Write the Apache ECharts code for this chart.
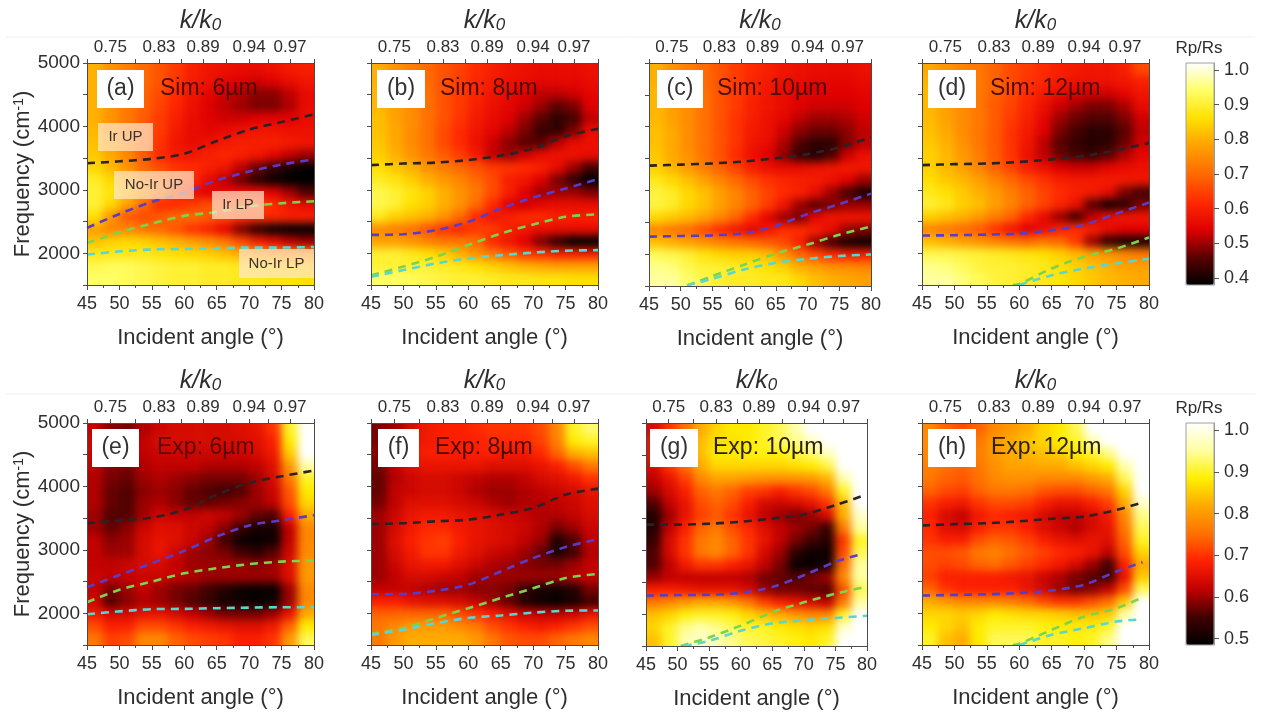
<!DOCTYPE html>
<html><head><meta charset="utf-8">
<style>html,body{margin:0;padding:0;background:#fff}#c{width:1261px;height:715px}</style>
<script src="https://cdn.jsdelivr.net/npm/echarts@6/dist/echarts.min.js"></script>
</head><body><div id="c"></div>
<script>
const angleBands=['46.25','48.75','51.25','53.75','56.25','58.75','61.25','63.75','66.25','68.75','71.25','73.75','76.25','78.75'];
const freqBands=['4903','4708','4514','4319','4125','3931','3736','3542','3347','3153','2958','2764','2569','2375','2181','1986','1792','1597'];
const yTickValues=[1500,2000,2500,3000,3500,4000,4500,5000];
const yLabelValues=[2000,3000,4000,5000];
const kAngles=[48.6,56.1,62.9,70,76.3];
const kLabels=['0.75','0.83','0.89','0.94','0.97'];
const kTicks=[45,48.6,52.5,56.1,59.5,62.9,66.5,70,73,76.3,80];
const barTicks=[0.4,0.5,0.6,0.7,0.8,0.9,1.0];
const barTicks2=[0.5,0.6,0.7,0.8,0.9,1.0];

const heatA=[
[80,76,73,70,67,64,60,58,57,56,56,57,59,60],
[80,76,73,70,67,63,59,57,55,54,53,54,56,58],
[80,76,72,69,66,62,58,55,53,51,49,49,52,56],
[80,76,72,69,65,61,57,54,52,50,48,48,51,56],
[80,76,72,68,64,60,56,54,53,53,54,54,54,56],
[81,76,72,68,64,59,56,55,56,57,58,58,57,57],
[82,78,73,68,63,58,56,57,59,60,60,60,59,58],
[83,79,74,68,62,59,58,60,61,60,58,55,52,50],
[85,81,76,70,66,63,62,60,58,52,47,43,40,38],
[89,85,80,74,70,66,62,56,52,47,42,39,38,38],
[90,87,82,76,70,62,56,54,55,56,56,54,50,45],
[90,85,78,70,62,62,64,66,66,66,65,62,58,56],
[86,76,68,66,68,70,70,68,66,63,62,61,60,60],
[78,74,74,72,70,67,63,60,55,48,42,39,37,37],
[82,84,85,84,82,80,78,75,72,66,60,56,52,50],
[88,88,88,88,87,86,85,84,82,80,78,76,75,75],
[92,93,93,92,91,90,90,89,89,88,87,86,85,85],
[94,94,93,92,91,90,90,89,89,88,88,87,87,86]];
const heatB=[
[80,76,73,70,67,65,62,60,58,57,56,56,56,57],
[80,77,73,70,67,64,61,59,57,56,55,55,55,56],
[81,77,74,71,67,64,61,58,56,54,52,52,53,55],
[81,78,75,71,67,64,60,57,55,53,50,46,48,54],
[82,78,75,71,67,63,59,56,54,50,46,42,44,52],
[82,79,75,71,66,62,58,55,52,48,43,42,48,56],
[83,79,75,71,66,62,57,53,49,46,46,52,56,57],
[84,80,76,72,68,64,59,52,50,53,56,57,57,56],
[86,83,80,76,73,70,67,64,63,62,60,56,50,44],
[89,87,84,80,77,74,70,66,60,58,54,48,42,38],
[92,90,87,84,80,76,72,66,60,54,50,50,50,48],
[92,90,86,84,80,76,70,62,54,53,55,56,56,56],
[88,84,82,80,76,70,62,58,60,62,62,60,60,60],
[75,73,71,67,63,61,64,64,60,58,56,56,56,56],
[78,78,76,74,72,72,70,62,58,54,48,42,38,36],
[90,90,88,86,84,80,76,72,68,64,62,60,60,60],
[90,90,90,90,89,88,86,84,82,80,79,78,78,78],
[94,94,93,92,91,90,90,89,88,88,87,87,86,86]];
const heatC=[
[80,76,73,70,67,64,62,60,58,57,56,56,56,57],
[80,77,73,70,67,64,61,59,57,56,55,55,55,56],
[81,78,74,71,67,64,61,58,56,55,54,54,54,55],
[81,78,75,71,67,64,60,58,56,54,53,53,53,54],
[81,78,75,71,67,63,60,57,55,52,50,50,51,53],
[82,79,75,71,67,63,59,57,53,49,47,47,49,52],
[82,79,75,71,67,63,58,56,51,45,42,42,48,52],
[83,79,76,71,67,62,57,54,49,43,41,45,53,57],
[84,81,77,73,69,65,60,57,56,56,57,58,59,58],
[88,85,82,78,74,70,66,63,61,60,59,57,54,50],
[91,89,85,82,78,74,69,65,62,60,56,50,44,40],
[91,89,85,82,78,74,69,64,58,50,46,48,50,50],
[85,83,81,78,74,69,62,55,50,48,55,58,58,58],
[74,72,70,66,62,58,55,58,62,62,60,56,50,48],
[82,80,78,76,74,72,70,68,66,60,50,44,40,39],
[93,92,90,87,85,84,84,82,76,70,66,62,60,60],
[96,95,92,90,90,89,88,86,84,80,78,76,75,74],
[97,97,94,92,90,89,89,88,88,85,82,80,79,78]];
const heatD=[
[79,76,74,72,69,66,64,62,60,59,58,58,60,66],
[80,77,74,72,69,66,63,61,59,57,57,57,58,60],
[81,78,75,72,69,66,62,59,56,54,53,53,55,58],
[81,78,75,72,68,65,61,57,53,50,48,48,51,56],
[81,78,75,72,68,64,60,55,50,47,45,45,48,53],
[82,79,75,72,68,63,59,54,48,44,42,42,46,52],
[83,80,76,72,68,63,58,52,46,43,41,42,47,53],
[84,81,77,73,68,63,57,52,47,44,43,46,51,55],
[84,81,78,74,69,65,60,57,54,53,53,55,56,57],
[86,83,81,78,74,70,66,63,60,59,59,59,59,58],
[88,86,83,80,77,73,69,65,62,60,59,56,48,44],
[90,88,84,82,78,74,69,65,61,57,46,40,42,48],
[84,82,80,77,73,69,62,56,50,44,52,56,58,58],
[74,72,70,68,63,58,54,56,60,62,60,56,54,54],
[82,80,78,76,74,72,70,72,70,64,50,42,40,40],
[92,92,91,90,89,88,87,86,84,81,78,76,74,72],
[96,95,93,91,90,90,89,88,86,84,82,80,78,78],
[97,97,95,93,91,90,89,88,87,85,83,81,80,79]];
const heatE=[
[62,59,58,61,63,64,64,64,64,65,66,70,90,102],
[63,60,59,62,64,64,64,64,64,64,65,68,88,102],
[63,60,59,62,63,63,63,63,63,63,64,67,85,102],
[62,59,58,61,62,62,62,61,61,61,62,65,80,96],
[61,58,57,60,61,60,59,58,58,58,60,64,76,90],
[61,57,56,59,60,59,57,56,55,56,60,63,73,88],
[61,57,56,60,61,59,57,57,58,59,60,62,72,86],
[60,56,56,60,63,62,62,63,62,60,57,56,68,82],
[60,57,59,63,65,65,63,62,59,55,51,51,62,78],
[62,59,60,64,66,65,63,60,55,50,49,50,62,78],
[62,60,60,64,66,63,60,59,58,55,53,56,63,78],
[62,62,63,64,64,62,60,60,60,60,59,60,65,80],
[63,62,62,63,63,62,61,60,60,60,60,60,65,80],
[62,58,60,62,60,58,57,55,52,50,49,49,60,78],
[63,56,59,61,60,58,56,54,51,50,49,50,60,78],
[67,64,64,66,66,64,62,60,58,58,58,60,66,82],
[72,68,68,72,72,70,68,67,66,65,65,67,74,88],
[76,71,72,78,78,74,72,71,70,68,68,70,80,92]];
const heatF=[
[58,60,64,67,68,68,69,70,70,70,72,78,90,93],
[58,62,65,67,68,68,68,69,69,69,71,77,88,90],
[59,63,66,68,68,68,68,68,67,67,69,74,82,84],
[58,62,65,66,66,66,66,65,65,65,66,68,72,76],
[57,61,63,64,64,63,62,61,61,62,64,65,67,70],
[57,62,63,64,64,63,61,60,60,61,62,63,64,66],
[58,62,65,65,65,64,63,61,60,61,61,62,63,65],
[60,63,66,67,67,66,65,64,63,62,61,61,62,64],
[60,64,67,69,69,67,66,65,64,63,61,58,60,63],
[60,65,68,70,71,68,66,65,64,62,60,52,56,62],
[60,64,67,70,70,67,65,63,62,60,57,51,55,61],
[60,63,66,67,67,65,63,61,60,59,58,58,60,62],
[60,62,64,64,63,62,60,60,60,60,60,60,61,62],
[62,62,62,61,60,60,59,59,58,54,51,50,52,58],
[68,68,66,65,65,64,62,60,57,52,50,49,51,55],
[74,74,74,74,74,72,70,68,65,63,62,62,63,66],
[76,78,80,80,80,78,76,72,70,68,67,68,70,72],
[76,80,82,82,82,82,80,76,73,72,72,74,76,78]];
const heatG=[
[64,70,75,82,86,88,88,90,92,96,102,102,102,102],
[66,72,78,84,87,87,88,90,92,94,98,102,102,102],
[66,72,78,84,88,88,89,89,89,91,93,97,102,102],
[64,70,75,82,86,86,86,86,86,87,88,91,102,102],
[62,66,71,78,81,81,80,79,79,79,80,83,96,102],
[60,64,68,74,76,74,71,70,68,70,72,76,90,102],
[56,62,66,72,74,72,68,64,63,64,66,70,84,102],
[52,60,66,71,73,70,66,62,60,58,60,64,82,98],
[52,62,68,74,76,72,69,65,62,60,58,54,76,95],
[54,64,70,76,78,74,70,66,62,58,55,52,70,90],
[56,64,70,76,78,74,70,64,60,53,50,50,72,92],
[56,62,67,70,70,68,66,62,58,50,49,51,75,95],
[60,62,62,62,62,62,61,58,57,56,58,60,78,95],
[68,68,67,66,66,66,64,60,58,58,57,56,72,92],
[76,78,80,82,82,80,76,71,68,66,64,62,76,95],
[84,86,89,90,90,89,86,84,82,80,78,78,90,102],
[86,90,94,96,94,92,90,90,88,87,86,87,98,102],
[84,90,96,98,96,94,92,91,90,89,88,90,102,102]];
const heatH=[
[78,74,72,74,78,80,82,86,88,92,102,102,102,102],
[78,76,74,76,80,82,84,86,88,90,96,102,102,102],
[78,76,74,77,80,82,83,84,85,88,90,94,102,102],
[77,75,74,76,79,81,81,82,82,84,86,88,96,102],
[76,74,73,75,78,79,79,78,78,78,80,82,92,102],
[74,72,71,74,76,76,75,73,72,72,74,76,86,102],
[70,68,67,70,72,72,71,68,66,66,68,71,82,98],
[68,64,62,67,69,68,67,64,62,62,64,67,78,94],
[69,65,64,68,70,70,68,65,63,61,64,66,76,92],
[70,68,68,72,74,73,71,68,66,65,66,65,74,90],
[72,72,73,76,77,75,73,71,69,68,66,62,72,86],
[72,71,72,74,75,73,71,69,67,64,60,55,68,82],
[71,68,68,68,68,67,66,63,61,58,56,55,66,85],
[74,70,68,68,68,68,66,63,60,58,59,62,72,92],
[82,80,78,78,78,77,75,72,70,70,72,75,85,102],
[86,86,85,86,88,87,86,86,85,84,84,85,95,102],
[88,86,84,88,90,90,90,89,88,88,88,90,102,102],
[90,84,82,88,92,92,92,90,90,89,90,94,102,102]];

const lineA=[[[45,3420],[50,3450],[55,3490],[60,3570],[65,3770],[70,3950],[75,4070],[80,4190]],
[[45,2400],[50,2620],[55,2810],[60,2960],[65,3150],[70,3290],[75,3400],[80,3480]],
[[45,2160],[50,2330],[55,2470],[60,2590],[65,2650],[70,2740],[75,2790],[80,2820]],
[[45,1980],[50,2030],[55,2060],[60,2070],[65,2080],[70,2090],[75,2090],[80,2100]]];
const lineB=[[[45,3390],[50,3415],[55,3430],[60,3470],[65,3540],[70,3650],[75,3845],[80,3965]],
[[45,2290],[50,2300],[55,2365],[60,2495],[65,2705],[70,2880],[75,3020],[80,3170]],
[[45,1655],[50,1790],[55,1945],[60,2130],[65,2310],[70,2455],[75,2575],[80,2615]],
[[45,1630],[50,1735],[55,1840],[60,1920],[65,1970],[70,2010],[75,2040],[80,2050]]];
const lineC=[[[45,3390],[50,3405],[55,3425],[60,3455],[65,3505],[70,3570],[75,3675],[80,3835]],
[[45,2275],[50,2285],[55,2295],[60,2330],[65,2445],[70,2630],[75,2785],[80,2950]],
[[51,1510],[55,1655],[60,1835],[65,2010],[70,2150],[75,2305],[80,2435]],
[[51,1510],[55,1615],[60,1760],[65,1865],[70,1925],[75,1970],[80,1995]]];
const lineD=[[[45,3390],[50,3405],[55,3415],[60,3440],[65,3480],[70,3535],[75,3625],[80,3740]],
[[45,2280],[50,2285],[55,2295],[60,2310],[65,2365],[70,2450],[75,2625],[80,2800]],
[[59,1500],[60,1515],[65,1760],[70,1945],[75,2075],[80,2250]],
[[60,1500],[65,1655],[70,1760],[75,1840],[79,1900],[80,1915]]];
const lineE=[[[45,3420],[50,3465],[55,3510],[60,3630],[65,3870],[70,4055],[75,4160],[80,4250]],
[[45,2410],[50,2605],[55,2790],[60,2985],[65,3210],[70,3385],[75,3465],[80,3545]],
[[45,2175],[50,2370],[55,2500],[60,2630],[65,2710],[70,2775],[75,2815],[80,2830]],
[[45,1985],[50,2030],[55,2065],[60,2070],[65,2080],[70,2090],[75,2095],[80,2095]]];
const lineF=[[[45,3405],[50,3420],[55,3450],[60,3475],[65,3555],[70,3660],[75,3870],[80,3965]],
[[45,2300],[50,2305],[55,2355],[60,2450],[65,2660],[70,2870],[75,3045],[80,3170]],
[[45,1675],[50,1765],[55,1925],[60,2080],[65,2240],[70,2395],[75,2555],[80,2620]],
[[45,1660],[50,1740],[55,1845],[60,1925],[65,1965],[70,2010],[75,2040],[80,2045]]];
const lineG=[[[45,3405],[50,3405],[55,3420],[60,3450],[65,3500],[70,3565],[75,3710],[79,3845]],
[[45,2290],[50,2300],[55,2305],[60,2335],[65,2425],[70,2610],[75,2820],[79,2940]],
[[50.5,1500],[55,1635],[60,1820],[65,2030],[70,2185],[75,2320],[80,2435]],
[[51,1500],[55,1580],[60,1740],[65,1855],[70,1905],[75,1940],[80,1975]]];
const lineH=[[[45,3385],[50,3405],[55,3420],[60,3450],[65,3490],[70,3525],[75,3630],[79,3745]],
[[45,2280],[50,2290],[55,2300],[60,2320],[65,2360],[70,2450],[75,2660],[79,2805]],
[[59,1500],[60,1520],[65,1740],[70,1950],[75,2080],[79,2250]],
[[60,1500],[65,1660],[70,1765],[75,1870],[79,1905]]];

const panelHeat=[heatA,heatB,heatC,heatD,heatE,heatF,heatG,heatH];
const panelLines=[lineA,lineB,lineC,lineD,lineE,lineF,lineG,lineH];
const panelTags=['(a)','(b)','(c)','(d)','(e)','(f)','(g)','(h)'];
const panelNames=['Sim: 6µm','Sim: 8µm','Sim: 10µm','Sim: 12µm','Exp: 6µm','Exp: 8µm','Exp: 10µm','Exp: 12µm'];
const regionNames=['Ir UP','No-Ir UP','Ir LP','No-Ir LP'];

// layout
const rects=[[87,63,227,222],[371,63,227,222],[649,63,222,223],[922,63,227,222],
             [87,423,227,222],[371,423,227,222],[646,423,221,223],[922,423,227,222]];
const tagBoxes=[[97,70,47,38],[377,70,48,38],[657,70,46,38],[928,70,48,38],
                [92,429,47,38],[378,429,41,38],[650,429,48,38],[928,429,48,38]];
const nameX=[160,440,717,990,157,435,713,991];
const nameFill=['#4a0c0c','#4a0c0c','#4a0c0c','#4a0c0c','#5a0808','#4a0808','#2b2200','#2b2200'];
const regionBoxes=[[98,123,55,28],[114,171,80,28],[212,191,52,28],[239,249,75,29]];
const lineColors=['#2a2226','#5a3cc8','#7cd44a','#58d6d0'];
const FONT='"Liberation Sans",Arial,sans-serif';
const TXT='#2e2e2e';
const BLUR=4;

const scale1=['#000000','#5a0000','#e00000','#ff2a00','#ff6a00','#ffa000','#ffe000','#ffff66','#ffffff'];
const scale2=['#000000','#400000','#c00000','#ff2000','#ff7000','#ffa800','#ffef00','#ffffa0','#ffffff'];

const grids=[],xAxes=[],yAxes=[],series=[],graphic=[];
const simIdx=[],expIdx=[];
const Z=1; // everything but the colour cells sits on this canvas layer
rects.forEach((r,i)=>{
  const nc=angleBands.length,nr=freqBands.length,cw=r[2]/nc,ch=r[3]/nr;
  // the colour grid carries one repeated band per side so the smoothing does not fade at the plot edge
  const gHeat=grids.length;
  grids.push({left:r[0]-cw,top:r[1]-ch,width:r[2]+2*cw,height:r[3]+2*ch});
  xAxes.push({type:'category',gridIndex:gHeat,data:['lo',...angleBands,'hi'],show:false});
  yAxes.push({type:'category',gridIndex:gHeat,data:['lo',...freqBands.slice().reverse(),'hi'],show:false});
  const cells=[],h=panelHeat[i];
  for(let ri=-1;ri<=nr;ri++)for(let ci=-1;ci<=nc;ci++){
    const v=h[Math.min(nr-1,Math.max(0,ri))][Math.min(nc-1,Math.max(0,ci))];
    cells.push([ci+1,nr-ri,v/100]);
  }
  (i<4?simIdx:expIdx).push(series.length);
  series.push({type:'heatmap',xAxisIndex:xAxes.length-1,yAxisIndex:yAxes.length-1,data:cells,silent:true,progressive:0,zlevel:0,emphasis:{disabled:true}});

  const g=grids.length;
  grids.push({left:r[0],top:r[1],width:r[2],height:r[3]});
  const line={lineStyle:{color:'#4a4a4a',width:1}};
  const bi=xAxes.length;
  xAxes.push({type:'value',gridIndex:g,position:'bottom',min:45,max:80,interval:5,zlevel:Z,z:5,splitLine:{show:false},
    axisLine:{show:true,onZero:false,...line},axisTick:{show:true,length:5,inside:false,...line},
    minorTick:{show:true,splitNumber:2,length:3,lineStyle:{color:'#4a4a4a'}},minorSplitLine:{show:false},
    axisLabel:{fontSize:18,color:TXT,fontFamily:FONT,margin:10,hideOverlap:false,showMinLabel:true,showMaxLabel:true},
    name:'Incident angle (°)',nameLocation:'middle',nameGap:42,nameTextStyle:{fontSize:22,color:TXT,fontFamily:FONT}});
  xAxes.push({type:'value',gridIndex:g,position:'top',min:45,max:80,zlevel:Z,z:5,splitLine:{show:false},
    axisLine:{show:true,onZero:false,...line},axisTick:{show:true,length:4,customValues:kTicks,...line},
    axisLabel:{fontSize:17,color:TXT,fontFamily:FONT,margin:7,customValues:kAngles,formatter:v=>kLabels[kAngles.indexOf(v)]},
    name:'{i|k/k}{s|0}',nameLocation:'middle',nameGap:29,
    nameTextStyle:{rich:{i:{fontSize:25,fontStyle:'italic',color:TXT,fontFamily:FONT},s:{fontSize:17,fontStyle:'italic',color:TXT,fontFamily:FONT,verticalAlign:'bottom',padding:[9,0,0,0]}}}});
  const left=i%4===0;
  yAxes.push({type:'value',gridIndex:g,position:'left',min:1500,max:5000,zlevel:Z,z:5,splitLine:{show:false},
    axisLine:{show:true,onZero:false,...line},axisTick:{show:true,length:4,customValues:yTickValues,...line},
    axisLabel:{show:left,fontSize:19,color:TXT,fontFamily:FONT,margin:7,customValues:yLabelValues,formatter:v=>String(v)},
    name:left?'{a|Frequency (cm}{b|-1}{a|)}':'',nameLocation:'middle',nameGap:52,
    nameTextStyle:{rich:{a:{fontSize:22,color:TXT,fontFamily:FONT},b:{fontSize:14,color:TXT,fontFamily:FONT,verticalAlign:'top',padding:[0,0,8,0]}}}});
  yAxes.push({type:'value',gridIndex:g,position:'right',min:1500,max:5000,zlevel:Z,z:5,splitLine:{show:false},
    axisLine:{show:true,onZero:false,...line},axisTick:{show:false},axisLabel:{show:false}});
  panelLines[i].forEach((pts,k)=>{
    series.push({type:'line',xAxisIndex:bi,yAxisIndex:yAxes.length-2,data:pts,smooth:0.3,showSymbol:false,silent:true,zlevel:Z,z:3,
      lineStyle:{color:lineColors[k],width:2.6,type:[8,6]},clip:true});
  });
  const t=tagBoxes[i];
  graphic.push({type:'rect',zlevel:Z,shape:{x:t[0],y:t[1],width:t[2],height:t[3]},style:{fill:'#fff'},z:20,silent:true});
  graphic.push({type:'text',zlevel:Z,x:t[0]+t[2]/2,y:t[1]+t[3]/2,style:{text:panelTags[i],font:'23px '+FONT,fill:'#333',align:'center',verticalAlign:'middle'},z:21,silent:true});
  graphic.push({type:'text',zlevel:Z,x:nameX[i],y:t[1]+t[3]/2,style:{text:panelNames[i],font:'23px '+FONT,fill:nameFill[i],align:'left',verticalAlign:'middle'},z:21,silent:true});
});
regionNames.forEach((n,i)=>{
  const b=regionBoxes[i];
  graphic.push({type:'rect',zlevel:Z,shape:{x:b[0],y:b[1],width:b[2],height:b[3]},style:{fill:'rgba(255,232,205,0.72)'},z:20,silent:true});
  graphic.push({type:'text',zlevel:Z,x:b[0]+b[2]/2,y:b[1]+b[3]/2,style:{text:n,font:'15px '+FONT,fill:'#3a3030',align:'center',verticalAlign:'middle'},z:21,silent:true});
});
[37,394].forEach(y=>graphic.push({type:'line',zlevel:Z,shape:{x1:6,y1:y,x2:1255,y2:y},style:{stroke:'#f0f0f0',lineWidth:1},z:0,silent:true}));
[[1199,48],[1199,408]].forEach(([x,y])=>graphic.push({type:'text',zlevel:Z,x,y,style:{text:'Rp/Rs',font:'17px '+FONT,fill:TXT,align:'center',verticalAlign:'middle'},z:21,silent:true}));

// colour bars
const barDefs=[{top:63,height:222,min:0.38,max:1.02,ticks:barTicks},{top:423,height:222,min:0.485,max:1.017,ticks:barTicks2}];
barDefs.forEach(b=>{
  const g=grids.length;
  grids.push({left:1186,top:b.top,width:28,height:b.height,show:true,zlevel:Z,z:10,borderColor:'#a0a0a0',borderWidth:1,backgroundColor:'transparent'});
  xAxes.push({type:'value',gridIndex:g,show:false,min:0,max:1});
  yAxes.push({type:'value',gridIndex:g,position:'right',min:b.min,max:b.max,zlevel:Z,z:10,splitLine:{show:false},
    axisLine:{show:true,onZero:false,lineStyle:{color:'#9a9a9a'}},axisTick:{show:true,length:5,customValues:b.ticks,lineStyle:{color:'#555'}},
    axisLabel:{fontSize:18,color:TXT,fontFamily:FONT,margin:10,customValues:b.ticks,formatter:v=>v.toFixed(1)}});
  series.push({type:'line',zlevel:Z,xAxisIndex:xAxes.length-1,yAxisIndex:yAxes.length-1,data:[],silent:true});
});
const vm=(idx,b,colors)=>({type:'continuous',seriesIndex:idx,min:b.min,max:b.max,left:1186,top:b.top,itemWidth:28,itemHeight:b.height,
  padding:0,calculable:false,showLabel:false,text:null,inRange:{color:colors},orient:'vertical',realtime:false,zlevel:Z,z:1,borderWidth:0});

const chart=echarts.init(document.getElementById('c'),null,{renderer:'canvas'});
chart.setOption({animation:false,textStyle:{fontFamily:FONT},
  grid:grids,xAxis:xAxes,yAxis:yAxes,series,graphic:{elements:graphic},
  visualMap:[vm(simIdx,barDefs[0],scale1),vm(expIdx,barDefs[1],scale2)]});

// soften the cell layer (bottom canvas) the way the reference image is smooth, keeping it inside the plot frames
const clip=rects.map(r=>`M${r[0]} ${r[1]}H${r[0]+r[2]}V${r[1]+r[3]}H${r[0]}Z`).join('');
function soften(){
  const cv=document.querySelector('#c canvas');
  if(!cv)return;
  cv.style.filter=`blur(${BLUR}px)`;
  cv.style.clipPath=`path("${clip}")`;
}
soften();
chart.on('finished',soften);
</script></body></html>
